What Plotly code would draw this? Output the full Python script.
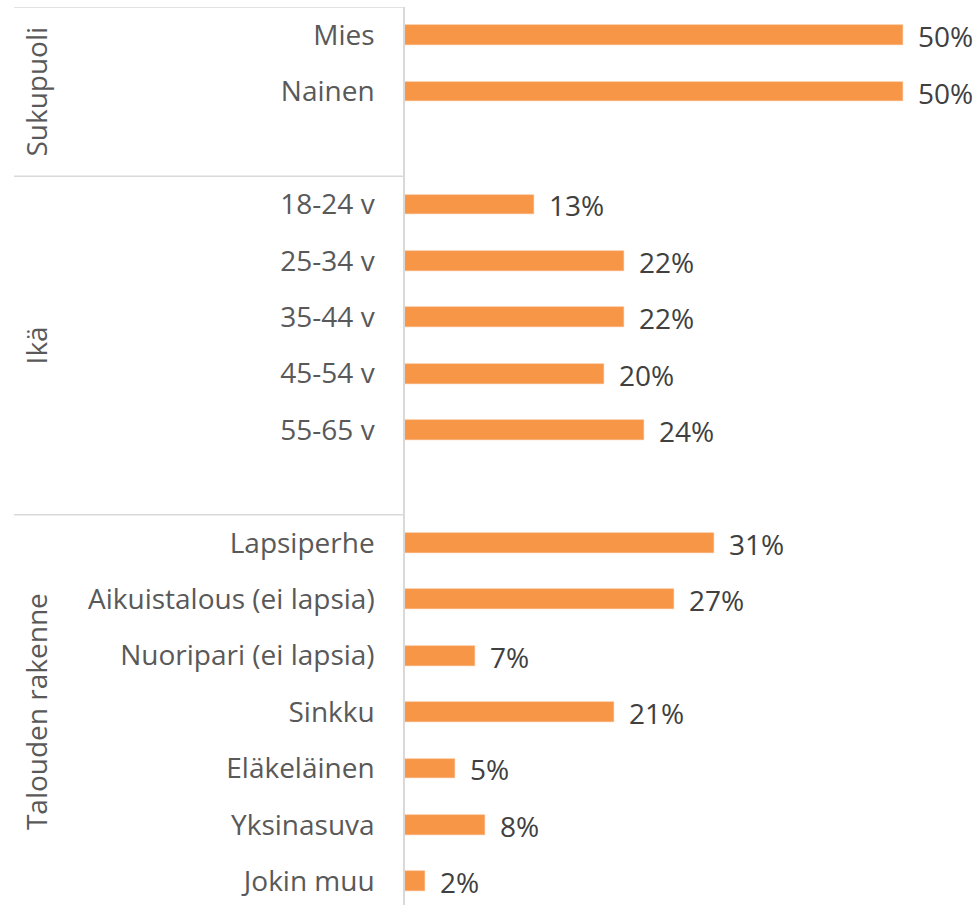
import plotly.graph_objects as go

categories = ["Mies", "Nainen", "", "18-24 v", "25-34 v", "35-44 v", "45-54 v", "55-65 v", "",
              "Lapsiperhe", "Aikuistalous (ei lapsia)", "Nuoripari (ei lapsia)", "Sinkku",
              "Eläkeläinen", "Yksinasuva", "Jokin muu"]
values = [50, 50, None, 13, 22, 22, 20, 24, None, 31, 27, 7, 21, 5, 8, 2]
groups = ["Sukupuoli", "Ikä", "Talouden rakenne"]
group_centers = [1.0, 5.5, 12.0]
group_bounds = [-0.5, 2.5, 8.5]

W, H = 979, 905
L = 405
plot_w = W - L
px_per_pct = 498 / 50.0
xmax = plot_w / px_per_pct

rows = list(range(len(categories)))
bar_rows = [r for r, v in zip(rows, values) if v is not None]
bar_vals = [v for v in values if v is not None]

fig = go.Figure()
fig.add_trace(go.Bar(
    x=bar_vals, y=bar_rows, orientation="h",
    marker=dict(color="#F79646", line=dict(color="#FAB27C", width=0.5)),
    width=0.35, hoverinfo="skip",
))

font_family = "Open Sans"
FS = 28
annotations = []
for r, v in zip(bar_rows, bar_vals):
    annotations.append(dict(x=v, y=r, xref="x", yref="y", text=f"{v}%", showarrow=False,
                            xanchor="left", yanchor="middle", xshift=13, yshift=-1,
                            font=dict(family=font_family, size=FS, color="#404040")))

def px_to_paper(px):
    return (px - L) / plot_w

for g, c in zip(groups, group_centers):
    annotations.append(dict(x=px_to_paper(36), y=c, xref="paper", yref="y",
                            text=g, textangle=-90, showarrow=False, xanchor="center", yanchor="middle",
                            font=dict(family=font_family, size=FS, color="#595959")))

shapes = []
for yb in group_bounds:
    shapes.append(dict(type="line", xref="paper", yref="y", x0=px_to_paper(14), x1=0,
                       y0=yb, y1=yb, line=dict(color="#D9D9D9", width=1.5)))

fig.update_layout(
    width=W, height=H,
    margin=dict(l=L, r=0, t=7, b=0),
    paper_bgcolor="white", plot_bgcolor="white",
    showlegend=False,
    bargap=0,
    xaxis=dict(range=[0, xmax], visible=False, fixedrange=True),
    yaxis=dict(range=[15.42, -0.5], tickmode="array", tickvals=rows, ticktext=categories,
               showline=True, linecolor="#D9D9D9", linewidth=1.5, showgrid=False, zeroline=False,
               ticks="", ticklabelstandoff=23, fixedrange=True,
               tickfont=dict(family=font_family, size=FS, color="#595959")),
    annotations=annotations, shapes=shapes,
)
fig.write_html("out.html", config={"displayModeBar": False},
               post_script="document.body.style.margin='0';document.body.style.overflow='hidden';")
